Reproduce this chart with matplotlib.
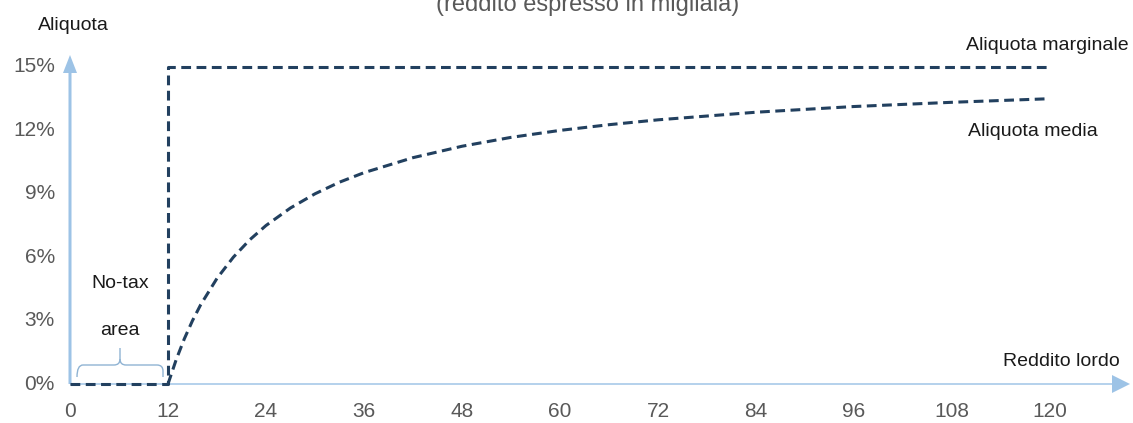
import numpy as np
import matplotlib
matplotlib.use("Agg")
import matplotlib.pyplot as plt
from matplotlib.path import Path
from matplotlib.patches import PathPatch, FancyArrow

plt.rcParams['font.family'] = ['Liberation Sans', 'DejaVu Sans']

# Dati (reddito in migliaia, aliquote in %)
reddito_marg = [0, 12, 12, 120]
aliq_marg = [0, 0, 15, 15]

reddito_media = [12, 13, 14, 15, 16, 18, 20, 22, 24, 27, 30, 33, 36, 42, 48,
                 54, 60, 66, 72, 84, 96, 108, 120]
aliq_media = [0, 1.15, 2.14, 3.0, 3.75, 5.0, 6.0, 6.82, 7.5, 8.33, 9.0, 9.55,
              10.0, 10.71, 11.25, 11.67, 12.0, 12.27, 12.5, 12.86, 13.13, 13.33, 13.5]

xticks = [0, 12, 24, 36, 48, 60, 72, 84, 96, 108, 120]
yticks = [0, 3, 6, 9, 12, 15]

W, H = 1133, 423
fig = plt.figure(figsize=(W / 100, H / 100), dpi=100)
ax = fig.add_axes([0, 0, 1, 1])

# mappa pixel -> dati
px0, px120 = 70, 1050
py0, py15 = 384, 67
sx = (px120 - px0) / 120.0
sy = (py0 - py15) / 15.0
def dx(px):
    return (px - px0) / sx
def dy(py):
    return (py0 - py) / sy

ax.set_xlim(dx(0), dx(W))
ax.set_ylim(dy(H), dy(0))
ax.axis('off')

axis_col = '#9DC3E6'
line_col = '#22405F'
txt_col = '#595959'
lab_col = '#1a1a1a'

# assi con frecce
ax.add_patch(FancyArrow(0, 0, dx(1112), 0, width=0.07, head_width=0.85,
                        head_length=dx(px0 + 18) - dx(px0), length_includes_head=False,
                        color=axis_col, lw=0))
ax.add_patch(FancyArrow(0, 0, 0, dy(73), width=dx(px0 + 3) - dx(px0),
                        head_width=dx(px0 + 14) - dx(px0), head_length=0.85,
                        length_includes_head=False, color=axis_col, lw=0))

# curve
ax.plot(reddito_marg, aliq_marg, color=line_col, lw=2.2, ls=(0, (3.2, 1.8)),
        dash_capstyle='butt')
ax.plot(reddito_media, aliq_media, color=line_col, lw=2.2, ls=(0, (3.2, 1.8)),
        dash_capstyle='butt')

# etichette assi
for t in xticks:
    ax.text(t, dy(411), str(t), ha='center', va='center', fontsize=15, color=txt_col)
for t in yticks:
    ax.text(dx(55), t, f"{t}%", ha='right', va='center', fontsize=15, color=txt_col)

ax.text(dx(73), dy(26), "Aliquota", ha='center', va='center', fontsize=14, color=lab_col)
ax.text(dx(966), dy(46), "Aliquota marginale", ha='left', va='center', fontsize=14, color=lab_col)
ax.text(dx(968), dy(132), "Aliquota media", ha='left', va='center', fontsize=14, color=lab_col)
ax.text(dx(1003), dy(361), "Reddito lordo", ha='left', va='center', fontsize=14, color=lab_col)
ax.text(dx(120), dy(283), "No-tax", ha='center', va='center', fontsize=14, color=lab_col)
ax.text(dx(120), dy(330), "area", ha='center', va='center', fontsize=14, color=lab_col)
ax.text(dx(588), dy(11), "(reddito espresso in migliaia)", ha='center', va='baseline',
        fontsize=17, color=txt_col)

# parentesi graffa sopra la no-tax area
xl, xc, xr = 77, 120, 163
yb, ym, yt = 377, 365, 348
left = Path([(dx(xl), dy(yb)), (dx(xl), dy(ym)), (dx(xl + 6), dy(ym)),
             (dx(xc - 6), dy(ym)), (dx(xc), dy(ym)), (dx(xc), dy(ym - 6)), (dx(xc), dy(yt))],
            [Path.MOVETO, Path.CURVE3, Path.CURVE3,
             Path.LINETO, Path.CURVE3, Path.CURVE3, Path.LINETO])
right = Path([(dx(xc), dy(ym - 6)), (dx(xc), dy(ym)), (dx(xc + 6), dy(ym)),
              (dx(xr - 6), dy(ym)), (dx(xr), dy(ym)), (dx(xr), dy(ym + 6)), (dx(xr), dy(yb))],
             [Path.MOVETO, Path.CURVE3, Path.CURVE3,
              Path.LINETO, Path.CURVE3, Path.CURVE3, Path.LINETO])
for p in (left, right):
    ax.add_patch(PathPatch(p, fill=False, edgecolor='#8FB3D3', lw=1.0))

fig.savefig("out.png", dpi=100)
